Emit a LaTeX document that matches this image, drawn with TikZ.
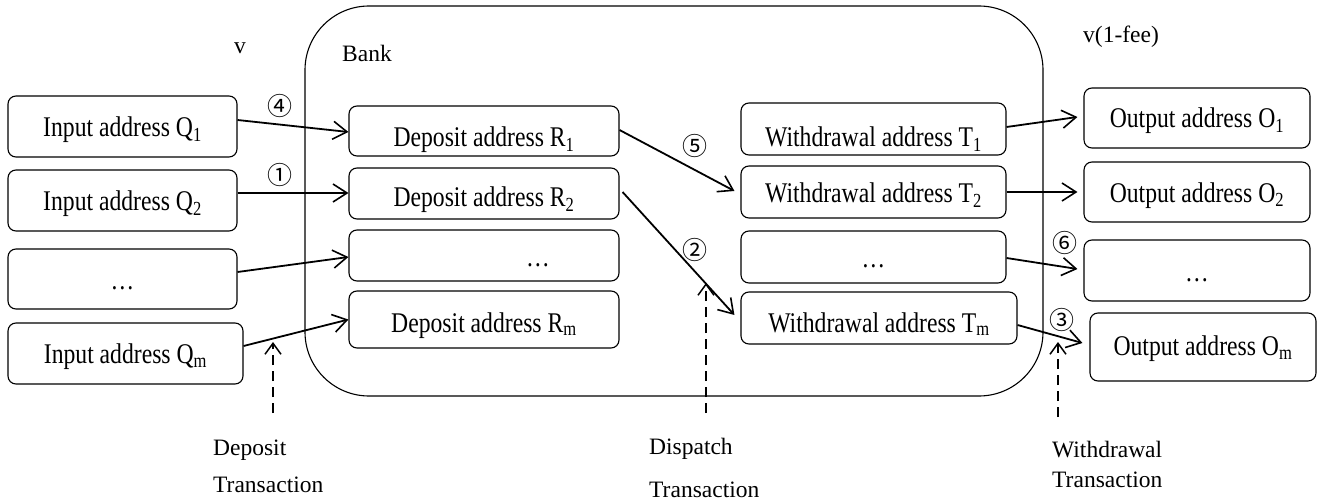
\documentclass[tikz,border=0pt]{standalone}
\usepackage{fontspec}
\setmainfont{Liberation Serif}
\newfontfamily\boxfont[FakeStretch=0.83]{Liberation Serif}
\newfontfamily\circfont{Noto Sans CJK SC}
\usetikzlibrary{arrows.meta}
\begin{document}
\begin{tikzpicture}[x=1pt,y=-1pt,
  addr/.style={draw, line width=1.1pt, rounded corners=8pt, inner sep=0pt,
    text height=26pt, text depth=5pt,
    font=\boxfont\fontsize{28.5}{30}\selectfont},
  tb/.style={text height=#1},
  bankbox/.style={draw, line width=1.1pt, rounded corners=64pt, inner sep=0pt},
  flow/.style={line width=1.8pt, -{Straight Barb[length=14pt,width=18pt,line width=1.6pt]}},
  trig/.style={line width=1.6pt, dash pattern=on 10pt off 6pt,
    -{Straight Barb[length=11pt,width=16pt,line width=1.5pt]}},
  lbl/.style={font=\fontsize{23.5}{28}\selectfont, inner sep=0pt},
  num/.style={font=\circfont\fontsize{25}{25}\selectfont, inner sep=0pt}
]
\useasboundingbox (0,0) rectangle (1318,500);

% bank
\node[bankbox, minimum width=738pt, minimum height=390pt] (bank) at (674,201) {};
\node[lbl] (banklbl) at (367,53) {Bank};
\node[lbl] (vin) at (240,48) {v};
\node[lbl] (vout) at (1121,37) {v(1-fee)};

% input addresses
\node[addr, minimum width=229pt, minimum height=61pt] (q1) at (122.5,126.5) {Input address Q\textsubscript{1}};
\node[addr, minimum width=229pt, minimum height=61pt] (q2) at (122.5,200.5) {Input address Q\textsubscript{2}};
\node[addr, minimum width=229pt, minimum height=60pt] (qd) at (122.5,279) {\dots};
\node[addr, tb=25pt, minimum width=235pt, minimum height=61pt] (qm) at (125.5,353.5) {Input address Q\textsubscript{m}};

% deposit addresses
\node[addr, tb=37pt, minimum width=270pt, minimum height=50pt] (r1) at (484,131) {Deposit address R\textsubscript{1}};
\node[addr, tb=32pt, minimum width=270pt, minimum height=51pt] (r2) at (484,193.5) {Deposit address R\textsubscript{2}};
\node[addr, minimum width=270pt, minimum height=51pt] (rd) at (484,255.5) {\hspace*{108pt}\dots};
\node[addr, tb=30pt, minimum width=270pt, minimum height=57pt] (rm) at (484,319.5) {Deposit address R\textsubscript{m}};

% withdrawal addresses
\node[addr, tb=41pt, minimum width=265pt, minimum height=52pt] (t1) at (873.5,129) {Withdrawal address T\textsubscript{1}};
\node[addr, tb=27pt, minimum width=265pt, minimum height=52pt] (t2) at (873.5,192) {Withdrawal address T\textsubscript{2}};
\node[addr, minimum width=265pt, minimum height=52pt] (td) at (873.5,257) {\dots};
\node[addr, tb=33pt, minimum width=276pt, minimum height=52pt] (tm) at (879,318) {Withdrawal address T\textsubscript{m}};

% output addresses
\node[addr, tb=25pt, minimum width=226pt, minimum height=60pt] (o1) at (1197,118) {Output address O\textsubscript{1}};
\node[addr, tb=25pt, minimum width=226pt, minimum height=60pt] (o2) at (1197,192) {Output address O\textsubscript{2}};
\node[addr, minimum width=226pt, minimum height=61pt] (od) at (1197,270.5) {\dots};
\node[addr, tb=22pt, minimum width=226pt, minimum height=68pt] (om) at (1203,347) {Output address O\textsubscript{m}};

% flows
\draw[flow] ([yshift=6.5pt]q1.east) -- ([yshift=-1pt]r1.west);
\draw[flow] ([yshift=7.5pt]q2.east) -- ([yshift=0.5pt]r2.west);
\draw[flow] ([yshift=7pt]qd.east) -- ([yshift=-1.5pt]rd.west);
\draw[flow] ([yshift=7.5pt]qm.east) -- (rm.west);
\draw[flow] ([yshift=1pt]r1.east) -- ([xshift=-6pt,yshift=1pt]t2.west);
\draw[flow] ([xshift=3pt,yshift=1.5pt]r2.east) -- ([xshift=-6pt,yshift=3pt]tm.west);
\draw[flow] ([yshift=2pt]t1.east) -- ([xshift=-6pt,yshift=1pt]o1.west);
\draw[flow] (t2.east) -- ([xshift=-6pt]o2.west);
\draw[flow] ([yshift=-1pt]td.east) -- ([xshift=-6pt,yshift=1.5pt]od.west);
\draw[flow] ([yshift=-7pt]tm.east) -- ([xshift=-7pt,yshift=4pt]om.west);

% step numbers
\node[num] (n4) at (280,106) {④};
\node[num] (n1) at (280,175) {①};
\node[num] (n5) at (695,146) {⑤};
\node[num] (n2) at (695,250) {②};
\node[num] (n6) at (1065,243) {⑥};
\node[num] (n3) at (1062,320) {③};

% transaction labels
\node[lbl, anchor=base west] (depA) at (213,455) {Deposit};
\node[lbl, anchor=base west] (depB) at (213,492) {Transaction};
\node[lbl, anchor=base west] (disA) at (649,454) {Dispatch};
\node[lbl, anchor=base west] (disB) at (649,497) {Transaction};
\node[lbl, anchor=base west] (witA) at (1052,457) {Withdrawal};
\node[lbl, anchor=base west] (witB) at (1052,487) {Transaction};

\coordinate (depS) at (273,413);
\coordinate (depE) at (273,342);
\coordinate (disS) at (706,413);
\coordinate (disE) at (706,283);
\coordinate (witS) at (1058,417);
\coordinate (witE) at (1058,342);
\draw[trig] (depS) -- (depE);
\draw[trig] (disS) -- (disE);
\draw[trig] (witS) -- (witE);
\end{tikzpicture}
\end{document}
